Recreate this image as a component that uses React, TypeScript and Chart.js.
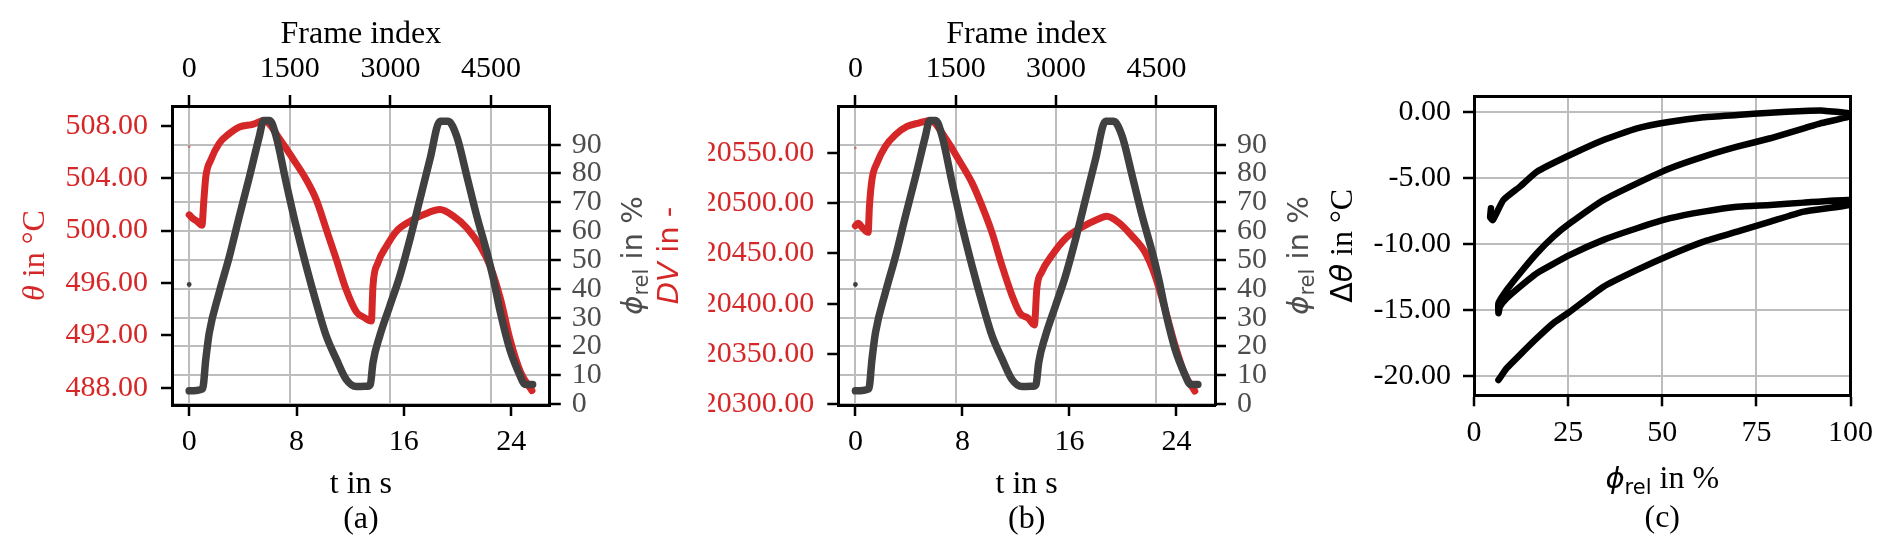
import { useEffect, useRef } from "react";
import { Chart, registerables } from "chart.js";

Chart.register(...registerables);

// ---------------- data ----------------
// relative position phi_rel in % (shared by panels a and b)
const PHI_T = [0.0, 1.0, 1.24, 1.5, 2.24, 3.0, 3.74, 4.5, 5.23, 5.55, 6.0, 6.48, 7.23, 7.97, 8.72, 9.47, 10.22, 10.97, 11.7, 12.46, 13.3, 13.5, 13.7, 14.2, 14.95, 15.7, 16.45, 17.2, 17.94, 18.7, 19.3, 19.94, 20.7, 21.44, 22.2, 22.68, 23.2, 23.9, 24.67, 25.0, 25.6];
const PHI = [4.6, 5.3, 15.6, 24.8, 38.7, 51.3, 65.2, 79.0, 92.9, 98.4, 98.4, 92.9, 76.8, 61.7, 47.9, 35.2, 23.6, 15.6, 8.6, 6.1, 6.2, 6.8, 14.4, 23.6, 34.0, 44.4, 57.1, 71.0, 84.8, 98.1, 98.1, 92.9, 79.0, 65.2, 52.5, 43.3, 31.7, 19.0, 9.8, 6.9, 6.8];

// temperature theta in degC (panel a)
const THETA_T = [0.0, 0.3, 0.6, 0.95, 1.1, 1.24, 1.62, 2.24, 3.0, 3.74, 4.74, 5.6, 6.0, 6.73, 7.72, 8.72, 9.47, 10.22, 10.97, 11.7, 12.46, 13.0, 13.58, 13.7, 14.08, 14.7, 15.45, 16.45, 17.44, 18.7, 19.7, 20.7, 21.7, 22.43, 23.2, 23.9, 24.7, 25.55];
const THETA = [501.2, 500.9, 500.7, 500.4, 502.4, 504.1, 505.4, 506.65, 507.4, 507.9, 508.1, 508.4, 508.1, 507.0, 505.5, 503.9, 502.36, 500.1, 497.8, 495.5, 493.8, 493.4, 493.1, 495.8, 497.56, 498.8, 499.95, 500.7, 501.2, 501.6, 501.1, 500.2, 498.8, 497.3, 494.8, 491.75, 489.2, 487.8];

// digital value DV (panel b)
const DV_T = [0.0, 0.2, 0.5, 0.95, 1.05, 1.24, 1.62, 2.24, 2.99, 3.86, 4.73, 5.6, 6.72, 7.71, 8.71, 9.46, 10.2, 10.95, 11.7, 12.31, 12.93, 13.38, 13.56, 13.93, 14.68, 15.67, 16.92, 18.16, 18.78, 19.65, 20.65, 21.64, 22.39, 23.13, 23.88, 24.63, 25.37];
const DV = [20477.5, 20480, 20476, 20471, 20497.3, 20523.7, 20540.1, 20556.5, 20568, 20576.2, 20579.6, 20582.2, 20564.8, 20543.4, 20520.4, 20497.3, 20471.1, 20438.2, 20408.6, 20390.5, 20385.6, 20379, 20415.2, 20431.7, 20448, 20464.5, 20476, 20484.2, 20486.9, 20481, 20467.8, 20451.4, 20428.3, 20395.5, 20359.3, 20329.7, 20313.3];

// first (outlier) samples at t = 0
const FIRST_T = [0];
const THETA_FIRST = [506.4];
const DV_FIRST = [20554.9];
const PHI_FIRST = [41.5];

// panel c: delta theta over phi_rel (time ordered)
const C_PHI = [
  4.5, 4.3, 5.0, 7.8, 12.2, 16.7, 25.5, 34.4, 43.3, 52.1, 61.0, 69.9, 78.7, 87.6, 92.9, 99.5,
  99.5, 92.0, 87.6, 78.7, 69.9, 61.0, 52.1, 43.3, 34.4, 25.5, 21.1, 16.7, 12.2, 8.7, 6.5, 6.5,
  6.9, 8.7, 12.2, 16.7, 25.5, 34.4, 43.3, 52.1, 61.0, 69.9, 78.7, 87.6, 99.5,
  99.5, 87.6, 78.7, 69.9, 61.0, 52.1, 43.3, 34.4, 25.5, 21.1, 16.7, 12.2, 8.7, 6.5,
];
const C_DTHETA = [
  -7.3, -8.0, -8.2, -6.68, -5.67, -4.54, -3.28, -2.14, -1.26, -0.76, -0.42, -0.25, -0.08, 0.05, 0.08, -0.12,
  -0.38, -0.88, -1.26, -2.01, -2.65, -3.4, -4.28, -5.42, -6.68, -8.44, -9.45, -10.71, -12.22, -13.49, -14.49, -15.25,
  -14.75, -14.11, -13.24, -12.22, -10.84, -9.7, -8.82, -8.06, -7.56, -7.19, -7.06, -6.88, -6.68,
  -7.06, -7.56, -8.32, -9.08, -9.83, -10.84, -11.97, -13.24, -15.13, -16.0, -17.14, -18.4, -19.41, -20.3,
];

// ticks
const T_TICKS = [0, 8, 16, 24];
const FRAME_TICKS = [0, 1500, 3000, 4500];
const PHI_TICKS = [0, 10, 20, 30, 40, 50, 60, 70, 80, 90];
const THETA_TICKS = [488, 492, 496, 500, 504, 508];
const DV_TICKS = [20300, 20350, 20400, 20450, 20500, 20550];
const C_X_TICKS = [0, 25, 50, 75, 100];
const C_Y_TICKS = [-20, -15, -10, -5, 0];

// axis limits
const FPS = 200;
const T_RANGE = [-1.28, 26.88];
const FRAME_RANGE = [T_RANGE[0] * FPS, T_RANGE[1] * FPS];
const THETA_RANGE = [486.7, 509.5];
const DV_RANGE = [20299.5, 20596.5];
const PHI_RANGE = [-0.3, 103.4];
const C_X_RANGE = [0, 100];
const C_Y_RANGE = [-21.46, 1.15];

// ---------------- style / layout ----------------
const W = 1892;
const H = 555;
const RED = "#d62728";
const GREY_LINE = "#404040";
const GREY_TEXT = "#4d4d4d";
const GRID = "#bdbdbd";
const SERIF = '"Liberation Serif", "Times New Roman", serif';
const SANS = '"DejaVu Sans", "Noto Sans", sans-serif';
const TICK_FONT = { family: SERIF, size: 30 };

type Area = { left: number; top: number; right: number; bottom: number };
const AREA_A: Area = { left: 172, top: 106, right: 549.8, bottom: 405 };
const AREA_B: Area = { left: 838.3, top: 106, right: 1215, bottom: 405 };
const AREA_C: Area = { left: 1474, top: 96.5, right: 1850.5, bottom: 395.3 };
const SIDE = { left: 130, right: 100, top: 60, bottom: 60 };

const pts = (xs: number[], ys: number[]) => xs.map((x, i) => ({ x, y: ys[i] }));

type Pos = "left" | "right" | "top" | "bottom";
function axis(o: {
  position: Pos;
  range: number[];
  ticks: number[];
  fmt: (v: number) => string;
  color?: string;
  gridOnArea?: boolean;
  pad?: number;
  hidden?: boolean;
}) {
  const vertical = o.position === "left" || o.position === "right";
  return {
    type: "linear" as const,
    position: o.position,
    min: o.range[0],
    max: o.range[1],
    afterBuildTicks: (s: any) => {
      s.ticks = o.ticks.map((v) => ({ value: v }));
    },
    afterFit: (s: any) => {
      if (vertical) s.width = SIDE[o.position];
      else s.height = SIDE[o.position];
    },
    ticks: {
      display: !o.hidden,
      color: o.color ?? "#000",
      font: TICK_FONT,
      padding: o.pad ?? 8,
      autoSkip: false,
      maxRotation: 0,
      minRotation: 0,
      callback: (v: any) => o.fmt(Number(v)),
    },
    grid: {
      display: !o.hidden,
      drawOnChartArea: !!o.gridOnArea,
      drawTicks: true,
      color: GRID,
      lineWidth: 2,
      tickColor: "#000",
      tickWidth: 2.5,
      tickLength: 11,
    },
    border: { display: true, color: "#000", width: 3, z: 1 },
  };
}

type Run = { text: string; font: string; color: string; dy?: number };
type Lbl = { side: Pos; off: number; runs: Run[] };

const labelPlugin = {
  id: "richLabels",
  afterDraw(chart: any, _args: any, opts: any) {
    const items: Lbl[] = (opts && opts.items) || [];
    const ctx: CanvasRenderingContext2D = chart.ctx;
    const a = chart.chartArea;
    const cx = (a.left + a.right) / 2;
    const cy = (a.top + a.bottom) / 2;
    for (const it of items) {
      ctx.save();
      let x = cx;
      let y = cy;
      let rot = 0;
      if (it.side === "top") y = a.top - it.off;
      else if (it.side === "bottom") y = a.bottom + it.off;
      else if (it.side === "left") {
        x = a.left - it.off;
        rot = -Math.PI / 2;
      } else {
        x = a.right + it.off;
        rot = -Math.PI / 2;
      }
      ctx.translate(x, y);
      ctx.rotate(rot);
      ctx.textBaseline = "alphabetic";
      ctx.textAlign = "left";
      let total = 0;
      for (const r of it.runs) {
        ctx.font = r.font;
        total += ctx.measureText(r.text).width;
      }
      let px = -total / 2;
      for (const r of it.runs) {
        ctx.font = r.font;
        ctx.fillStyle = r.color;
        ctx.fillText(r.text, px, r.dy || 0);
        px += ctx.measureText(r.text).width;
      }
      ctx.restore();
    }
  },
};

function padFor(area: Area) {
  return {
    left: area.left - SIDE.left,
    right: W - area.right - SIDE.right,
    top: area.top - SIDE.top,
    bottom: H - area.bottom - SIDE.bottom,
  };
}

const fmtInt = (v: number) => String(Math.round(v));
const fmt2 = (v: number) => v.toFixed(2);

function phiLabel(color: string, tail: string): Run[] {
  return [
    { text: "ϕ", font: `italic 29px ${SANS}`, color },
    { text: "rel", font: `21px ${SANS}`, color, dy: 6 },
    { text: " in %", font: tail, color },
  ];
}

function timePanel(
  area: Area,
  leftT: number[],
  leftV: number[],
  leftFirst: number[],
  leftRange: number[],
  leftTicks: number[],
  leftLabel: Run[],
  leftOff: number,
  caption: string
): any {
  return {
    type: "line",
    data: {
      datasets: [
        {
          label: "phi_rel",
          data: pts(PHI_T, PHI),
          xAxisID: "x",
          yAxisID: "yR",
          borderColor: GREY_LINE,
          backgroundColor: GREY_LINE,
          borderWidth: 7.5,
          pointRadius: 0,
          cubicInterpolationMode: "monotone",
          borderJoinStyle: "round",
          borderCapStyle: "round",
          order: 0,
        },
        {
          label: "phi_rel first sample",
          data: pts(FIRST_T, PHI_FIRST),
          xAxisID: "x",
          yAxisID: "yR",
          showLine: false,
          pointRadius: 2.4,
          pointBorderWidth: 0,
          pointBackgroundColor: GREY_LINE,
          order: 1,
        },
        {
          label: "left",
          data: pts(leftT, leftV),
          xAxisID: "x",
          yAxisID: "y",
          borderColor: RED,
          backgroundColor: RED,
          borderWidth: 7,
          pointRadius: 0,
          cubicInterpolationMode: "monotone",
          borderJoinStyle: "round",
          borderCapStyle: "round",
          order: 2,
        },
        {
          label: "left first sample",
          data: pts(FIRST_T, leftFirst),
          xAxisID: "x",
          yAxisID: "y",
          showLine: false,
          pointRadius: 1.4,
          pointBorderWidth: 0,
          pointBackgroundColor: "rgba(214,39,40,0.5)",
          order: 3,
        },
      ],
    },
    options: {
      responsive: false,
      animation: false,
      events: [],
      layout: { padding: padFor(area) },
      scales: {
        x: axis({ position: "bottom", range: T_RANGE, ticks: T_TICKS, fmt: fmtInt, pad: 8 }),
        xTop: axis({ position: "top", range: FRAME_RANGE, ticks: FRAME_TICKS, fmt: fmtInt, gridOnArea: true, pad: 8 }),
        y: axis({ position: "left", range: leftRange, ticks: leftTicks, fmt: fmt2, color: RED, pad: 13 }),
        yR: axis({ position: "right", range: PHI_RANGE, ticks: PHI_TICKS, fmt: fmtInt, color: GREY_TEXT, gridOnArea: true, pad: 11 }),
      },
      plugins: {
        legend: { display: false },
        tooltip: { enabled: false },
        richLabels: {
          items: [
            { side: "top", off: 63.5, runs: [{ text: "Frame index", font: `32px ${SERIF}`, color: "#000" }] },
            { side: "bottom", off: 87.7, runs: [{ text: "t in s", font: `32px ${SERIF}`, color: "#000" }] },
            { side: "bottom", off: 122.5, runs: [{ text: caption, font: `32px ${SERIF}`, color: "#000" }] },
            { side: "left", off: leftOff, runs: leftLabel },
            { side: "right", off: 92.5, runs: phiLabel(GREY_TEXT, `29px ${SANS}`) },
          ],
        },
      },
    },
    plugins: [labelPlugin],
  };
}

function configA(): any {
  return timePanel(
    AREA_A,
    THETA_T,
    THETA,
    THETA_FIRST,
    THETA_RANGE,
    THETA_TICKS,
    [
      { text: "θ", font: `italic 32px ${SERIF}`, color: RED },
      { text: " in °C", font: `32px ${SERIF}`, color: RED },
    ],
    128,
    "(a)"
  );
}

function configB(): any {
  return timePanel(
    AREA_B,
    DV_T,
    DV,
    DV_FIRST,
    DV_RANGE,
    DV_TICKS,
    [
      { text: "DV", font: `italic 29px ${SANS}`, color: RED },
      { text: " in -", font: `29px ${SANS}`, color: RED },
    ],
    160,
    "(b)"
  );
}

function configC(): any {
  return {
    type: "line",
    data: {
      datasets: [
        {
          label: "delta theta",
          data: pts(C_PHI, C_DTHETA),
          xAxisID: "x",
          yAxisID: "y",
          borderColor: "#000",
          backgroundColor: "#000",
          borderWidth: 6.5,
          pointRadius: 0,
          tension: 0.15,
          borderJoinStyle: "round",
          borderCapStyle: "round",
        },
      ],
    },
    options: {
      responsive: false,
      animation: false,
      events: [],
      layout: { padding: padFor(AREA_C) },
      scales: {
        x: axis({ position: "bottom", range: C_X_RANGE, ticks: C_X_TICKS, fmt: fmtInt, gridOnArea: true, pad: 9 }),
        xTop: axis({ position: "top", range: C_X_RANGE, ticks: C_X_TICKS, fmt: fmtInt, hidden: true }),
        y: axis({ position: "left", range: C_Y_RANGE, ticks: C_Y_TICKS, fmt: fmt2, gridOnArea: true, pad: 12 }),
        yR: axis({ position: "right", range: C_Y_RANGE, ticks: C_Y_TICKS, fmt: fmt2, hidden: true }),
      },
      plugins: {
        legend: { display: false },
        tooltip: { enabled: false },
        richLabels: {
          items: [
            { side: "bottom", off: 92.5, runs: phiLabel("#000", `32px ${SERIF}`) },
            { side: "bottom", off: 131.7, runs: [{ text: "(c)", font: `32px ${SERIF}`, color: "#000" }] },
            {
              side: "left",
              off: 122,
              runs: [
                { text: "Δ", font: `30px ${SANS}`, color: "#000" },
                { text: "θ", font: `italic 30px ${SANS}`, color: "#000" },
                { text: " in °C", font: `32px ${SERIF}`, color: "#000" },
              ],
            },
          ],
        },
      },
    },
    plugins: [labelPlugin],
  };
}

export default function App() {
  const refA = useRef<HTMLCanvasElement>(null);
  const refB = useRef<HTMLCanvasElement>(null);
  const refC = useRef<HTMLCanvasElement>(null);

  useEffect(() => {
    const charts = [
      new Chart(refA.current as HTMLCanvasElement, configA()),
      new Chart(refB.current as HTMLCanvasElement, configB()),
      new Chart(refC.current as HTMLCanvasElement, configC()),
    ];
    return () => charts.forEach((c) => c.destroy());
  }, []);

  const cs: any = { position: "absolute", left: 0, top: 0, width: W, height: H };
  return (
    <div style={{ position: "fixed", left: 0, top: 0, width: W, height: H, background: "#fff", overflow: "hidden" }}>
      <canvas ref={refA} width={W} height={H} style={cs} />
      <canvas ref={refB} width={W} height={H} style={cs} />
      <canvas ref={refC} width={W} height={H} style={cs} />
    </div>
  );
}
